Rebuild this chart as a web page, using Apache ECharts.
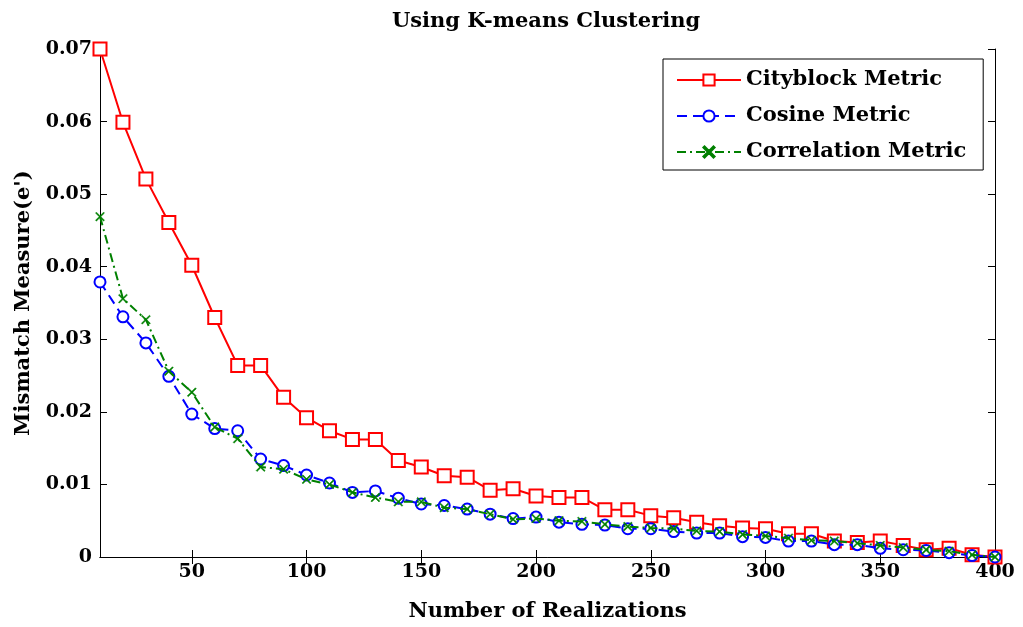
<!DOCTYPE html>
<html>
<head>
<meta charset="utf-8">
<script src="https://cdn.jsdelivr.net/npm/echarts@6/dist/echarts.min.js"></script>
<style>html,body{margin:0;padding:0;background:#fff}#c{width:1023px;height:627px}</style>
</head>
<body>
<div id="c"></div>
<script>
const realizations = [10,20,30,40,50,60,70,80,90,100,110,120,130,140,150,160,170,180,190,200,210,220,230,240,250,260,270,280,290,300,310,320,330,340,350,360,370,380,390,400];
const cityblock = [0.0700,0.0599,0.0521,0.0461,0.0402,0.0330,0.0264,0.0264,0.0220,0.0192,0.0174,0.0162,0.0162,0.0133,0.0124,0.0112,0.0110,0.0092,0.0094,0.0084,0.0082,0.0082,0.0065,0.0065,0.0057,0.0054,0.0048,0.0043,0.0040,0.0039,0.0032,0.0032,0.0022,0.0020,0.0022,0.0016,0.0010,0.0012,0.0003,0.0000];
const cosine = [0.0379,0.0331,0.0295,0.0249,0.0197,0.0177,0.0174,0.0135,0.0126,0.0113,0.0102,0.0089,0.0091,0.0081,0.0073,0.0071,0.0066,0.0059,0.0053,0.0055,0.0048,0.0045,0.0044,0.0039,0.0039,0.0035,0.0033,0.0033,0.0028,0.0027,0.0022,0.0022,0.0017,0.0017,0.0012,0.0010,0.0009,0.0006,0.0002,0.0000];
const correlation = [0.0469,0.0356,0.0327,0.0256,0.0227,0.0179,0.0163,0.0124,0.0121,0.0107,0.0100,0.0089,0.0082,0.0076,0.0076,0.0068,0.0066,0.0059,0.0052,0.0053,0.0050,0.0049,0.0045,0.0042,0.0040,0.0039,0.0036,0.0035,0.0031,0.0029,0.0026,0.0023,0.0022,0.0019,0.0016,0.0013,0.0010,0.0008,0.0003,0.0000];
const xTicks = [50,100,150,200,250,300,350,400];
const seriesNames = ['Cityblock Metric','Cosine Metric','Correlation Metric'];

const FONT = 'DejaVu Serif';
const chart = echarts.init(document.getElementById('c'), null, {renderer:'canvas'});
const pair = (ys) => realizations.map((x,i)=>[x, ys[i]]);
const xMark = 'path://M0,1L1,0L5,4L9,0L10,1L6,5L10,9L9,10L5,6L1,10L0,9L4,5Z';
const txt = {fontFamily:FONT, fontWeight:'bold', color:'#000'};
const baseX = {type:'value', min:10, max:400, splitLine:{show:false},
  axisLine:{lineStyle:{color:'#000',width:1}},
  axisTick:{inside:true, length:7, customValues:xTicks, lineStyle:{color:'#000'}},
  axisLabel:Object.assign({customValues:xTicks, fontSize:19, margin:6}, txt)};
const baseY = {type:'value', min:0, max:0.07, interval:0.01, splitLine:{show:false},
  axisLine:{lineStyle:{color:'#000',width:1}},
  axisTick:{inside:true, length:7, lineStyle:{color:'#000'}},
  axisLabel:Object.assign({fontSize:19, margin:8,
    formatter:(v)=> v===0 ? '0' : v.toFixed(2)}, txt)};
chart.setOption({
  animation:false,
  backgroundColor:'#fff',
  title:{text:'Using K-means Clustering', left:541, textAlign:'center', top:6,
    textStyle:Object.assign({fontSize:21}, txt)},
  grid:{left:100, right:28, top:49, bottom:69, containLabel:false},
  legend:{orient:'vertical', left:663, top:59, padding:[9,17,6,13], itemGap:12,
    itemWidth:64, itemHeight:14, borderColor:'#000', borderWidth:1, backgroundColor:'#fff',
    textStyle:Object.assign({fontSize:21, lineHeight:24}, txt),
    data:seriesNames},
  xAxis:[
    Object.assign({}, baseX, {position:'bottom', name:'Number of Realizations', nameLocation:'middle', nameGap:44,
      nameTextStyle:Object.assign({fontSize:21}, txt)}),
    Object.assign({}, baseX, {position:'top', axisLabel:{show:false}})
  ],
  yAxis:[
    Object.assign({}, baseY, {position:'left', name:"Mismatch Measure(e')", nameLocation:'middle', nameGap:66,
      nameTextStyle:Object.assign({fontSize:21}, txt)}),
    Object.assign({}, baseY, {position:'right', axisLabel:{show:false}})
  ],
  series:[
    {name:seriesNames[0], type:'line', data:pair(cityblock), symbol:'rect', symbolSize:13,
      itemStyle:{color:'#fff', borderColor:'#ff0000', borderWidth:2},
      lineStyle:{color:'#ff0000', width:2, type:'solid'}, z:2},
    {name:seriesNames[1], type:'line', data:pair(cosine), symbol:'circle', symbolSize:11,
      itemStyle:{color:'#fff', borderColor:'#0000ff', borderWidth:2},
      lineStyle:{color:'#0000ff', width:2, type:[10,6]}, z:3},
    {name:seriesNames[2], type:'line', data:pair(correlation), symbol:xMark, symbolSize:9,
      itemStyle:{color:'#008000', borderColor:'#008000', borderWidth:0.5},
      lineStyle:{color:'#008000', width:2, type:[9,4,2,4]}, z:4}
  ]
});
</script>
</body>
</html>
